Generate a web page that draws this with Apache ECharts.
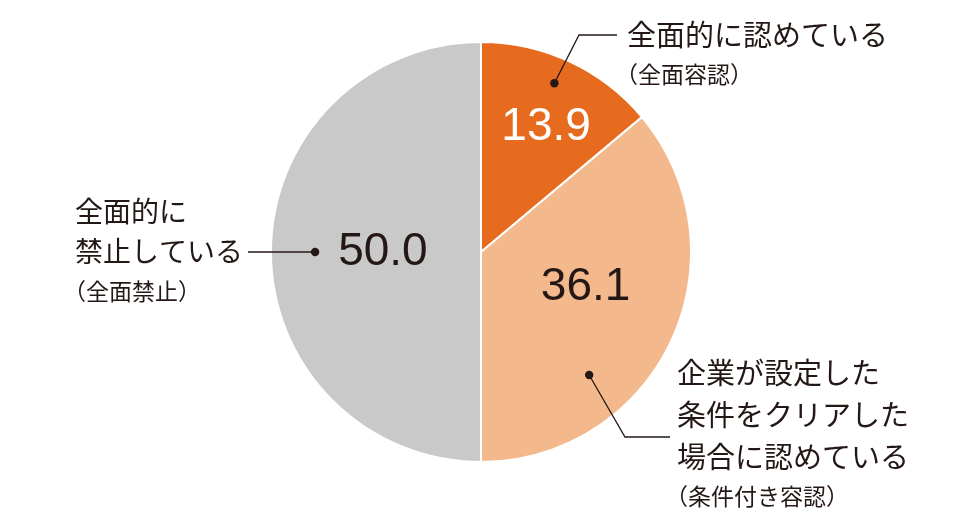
<!DOCTYPE html>
<html><head><meta charset="utf-8">
<script src="https://cdn.jsdelivr.net/npm/echarts@6/dist/echarts.min.js"></script>
<style>html,body{margin:0;padding:0;background:#fff}#c{width:960px;height:530px}</style>
</head><body><div id="c"></div><script>
// ---- data ----
const categories = ['全面的に認めている（全面容認）', '企業が設定した条件をクリアした場合に認めている（条件付き容認）', '全面的に禁止している（全面禁止）'];
const values = [13.9, 36.1, 50.0];
const nameLines = [['全面的に認めている'], ['企業が設定した', '条件をクリアした', '場合に認めている'], ['全面的に', '禁止している']];
const nameNotes = ['（全面容認）', '（条件付き容認）', '（全面禁止）'];

// ---- style / layout ----
const CX = 481, CY = 252, R = 210;
const colors = ['#E66B1F', '#F3B88B', '#C9C9C9'];
const valueColors = ['#ffffff', '#231815', '#231815'];
const valueAnchor = [[0.552, 0.669], [0.452, 0.526], [0.5, 0.467]];
const dotAnchor = [[0.47, 0.876], [0.682, 0.78], [0.5, 0.79]];
const PAREN = 12;
const textBox = [
  {x: 627, y: 14.5, lhA: 41, lhB: 37, fs: 29},
  {x: 677, y: 351.5, lhA: 42, lhB: 37, fs: 29},
  {x: 75, y: 192, lhA: 39.5, lhB: 41.5, fs: 28}
];
const elbows = [[[579, 35], [617, 35]], [[625, 437], [670, 437]], [[250, 252], [248, 252]]];
const TXT = '#231815';

function pt(i, af, rf) {
  const total = values.reduce((a, b) => a + b, 0);
  let cum = 0;
  for (let k = 0; k < i; k++) cum += values[k];
  const start = 90 - 360 * cum / total;
  const span = 360 * values[i] / total;
  const a = (start - af * span) * Math.PI / 180;
  return [CX + rf * R * Math.cos(a), CY - rf * R * Math.sin(a)];
}

const chart = echarts.init(document.getElementById('c'));
chart.setOption({
  animation: false,
  backgroundColor: '#fff',
  series: [
    {
      type: 'pie', center: [CX, CY], radius: R, startAngle: 90, clockwise: true,
      avoidLabelOverlap: false, silent: true, emphasis: {disabled: true},
      itemStyle: {borderColor: '#fff', borderWidth: 2},
      data: values.map((v, i) => ({name: categories[i], value: v, itemStyle: {color: colors[i]}, label: {color: valueColors[i]}})),
      label: {
        show: true, position: 'inside',
        formatter: p => p.value.toFixed(1),
        fontSize: 46, fontFamily: 'Liberation Sans, Arial, sans-serif'
      },
      labelLine: {show: false},
      labelLayout: p => {
        const q = pt(p.dataIndex, valueAnchor[p.dataIndex][0], valueAnchor[p.dataIndex][1]);
        return {x: q[0], y: q[1], align: 'center', verticalAlign: 'middle'};
      }
    },
    {
      type: 'pie', center: [CX, CY], radius: R, startAngle: 90, clockwise: true,
      avoidLabelOverlap: false, silent: true, emphasis: {disabled: true}, z: 3,
      itemStyle: {borderWidth: 0},
      data: values.map((v, i) => ({
        name: categories[i], value: v,
        itemStyle: {color: 'rgba(0,0,0,0)'},
        label: {
          rich: {
            a: {fontSize: textBox[i].fs, lineHeight: textBox[i].lhA, color: TXT, fontFamily: 'Noto Sans CJK JP', padding: [0, 0, 0, PAREN]},
            b: {fontSize: 23, lineHeight: textBox[i].lhB, color: TXT, fontFamily: 'Noto Sans CJK JP'}
          }
        }
      })),
      label: {
        show: true, position: 'outside', color: TXT, fontFamily: 'Noto Sans CJK JP',
        formatter: p => nameLines[p.dataIndex].map(s => '{a|' + s + '}').join('\n') + '\n{b|' + nameNotes[p.dataIndex] + '}'
      },
      labelLine: {show: true, lineStyle: {color: TXT, width: 1.3}},
      labelLayout: p => {
        const i = p.dataIndex;
        const d = pt(i, dotAnchor[i][0], dotAnchor[i][1]);
        return {x: textBox[i].x - PAREN, y: textBox[i].y, align: 'left', verticalAlign: 'top',
                labelLinePoints: [d, elbows[i][0], elbows[i][1]]};
      }
    }
  ],
  graphic: values.map((v, i) => {
    const d = pt(i, dotAnchor[i][0], dotAnchor[i][1]);
    return {type: 'circle', shape: {cx: d[0], cy: d[1], r: 4.2}, style: {fill: TXT}, z: 100, silent: true};
  })
});
</script></body></html>
